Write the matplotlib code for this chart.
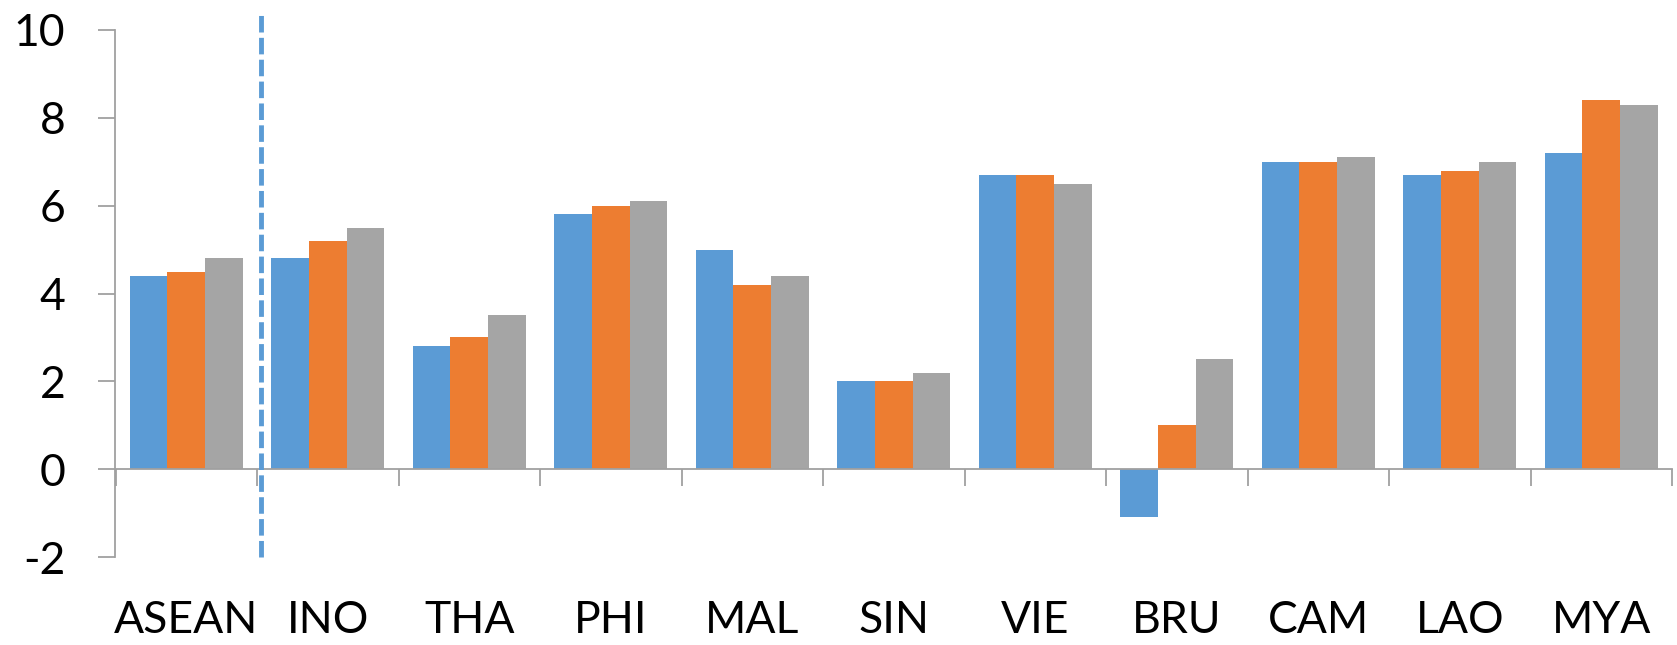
import matplotlib
matplotlib.use("Agg")
import matplotlib.pyplot as plt
import numpy as np

# Real GDP growth (%) by economy, three consecutive periods
categories = ["ASEAN", "INO", "THA", "PHI", "MAL", "SIN", "VIE", "BRU", "CAM", "LAO", "MYA"]
series_1 = [4.4, 4.8, 2.8, 5.8, 5.0, 2.0, 6.7, -1.1, 7.0, 6.7, 7.2]
series_2 = [4.5, 5.2, 3.0, 6.0, 4.2, 2.0, 6.7, 1.0, 7.0, 6.8, 8.4]
series_3 = [4.8, 5.5, 3.5, 6.1, 4.4, 2.2, 6.5, 2.5, 7.1, 7.0, 8.3]
y_ticks = [-2, 0, 2, 4, 6, 8, 10]

colors = ["#5B9BD5", "#ED7D31", "#A5A5A5"]
axis_color = "#A0A0A0"

plt.rcParams["font.family"] = ["Lato", "DejaVu Sans"]

fig = plt.figure(figsize=(16.77, 6.45), dpi=100)
ax = fig.add_axes([115.5 / 1677, 1 - 557 / 645, (1672 - 115.5) / 1677, (557 - 30) / 645])

x = np.arange(len(categories))
width = 1 / 3.75
for i, vals in enumerate([series_1, series_2, series_3]):
    ax.bar(x + (i - 1) * width, vals, width=width, color=colors[i], linewidth=0, zorder=2)

ax.set_xlim(-0.5, len(categories) - 0.5)
ax.set_ylim(-2, 10)

# Spines: left axis and horizontal axis through zero
for s in ["top", "right"]:
    ax.spines[s].set_visible(False)
ax.spines["left"].set_color(axis_color)
ax.spines["left"].set_linewidth(1.3)
ax.spines["bottom"].set_position(("data", 0))
ax.spines["bottom"].set_color(axis_color)
ax.spines["bottom"].set_linewidth(1.3)
ax.spines["bottom"].set_zorder(3)

ax.set_yticks(y_ticks)
ax.set_yticklabels([str(t) for t in y_ticks])
ax.tick_params(axis="y", length=12, width=1.3, color=axis_color, pad=24, labelsize=32)

ax.set_xticks(np.arange(len(categories) + 1) - 0.5)
ax.set_xticklabels([])
ax.tick_params(axis="x", length=12, width=1.3, color=axis_color, direction="out")

for xi, name in zip(x, categories):
    ax.text(xi, -3.45, name, ha="center", va="center", fontsize=32, clip_on=False)

# Dashed separator between the regional aggregate and member economies
ax.plot([0.53, 0.53], [-2, 10.4], color="#5B9BD5", linewidth=3.5,
        linestyle=(0, (3.4, 1.1)), clip_on=False, zorder=4)

fig.savefig("out.png", dpi=100)
